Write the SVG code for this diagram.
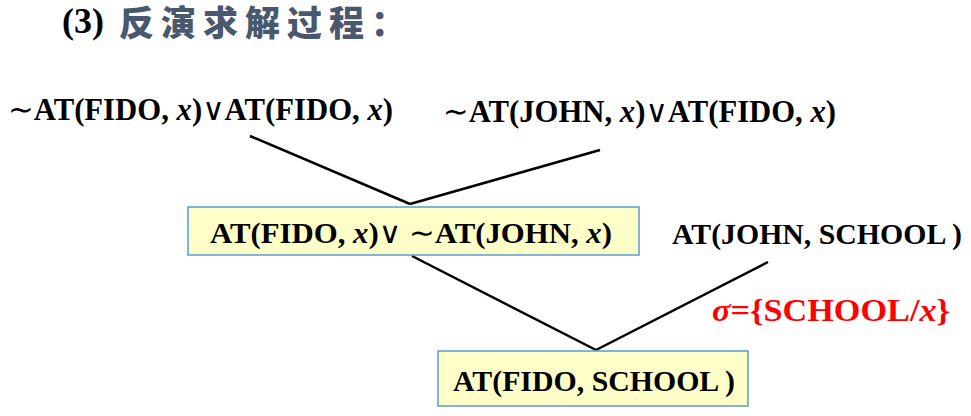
<svg xmlns="http://www.w3.org/2000/svg" width="971" height="416" viewBox="0 0 971 416">
<style>
.t{font-family:"Liberation Serif","DejaVu Serif",serif;font-weight:bold;font-size:30px;fill:#000}
.i{font-style:italic}
.op{font-family:"DejaVu Sans",sans-serif;font-weight:normal}
.box{fill:#ffffc8;stroke:#5b9bd5;stroke-width:1.5}
.ln{stroke:#000;stroke-width:2.5;fill:none}
</style>
<rect width="971" height="416" fill="#fff"/>
<g id="title">
<text x="62" y="33" class="t" style="font-size:36px">(3)</text>
<text x="119" y="36" style="font-family:'Noto Sans CJK SC',sans-serif;font-weight:900;font-size:35px;fill:#4a586e;letter-spacing:7px">反演求解过程：</text>
</g>
<g id="connectors">
<line class="ln" x1="250" y1="136" x2="410" y2="204"/>
<line class="ln" x1="600" y1="150" x2="410" y2="204"/>
<line class="ln" x1="412" y1="256" x2="596" y2="350"/>
<line class="ln" x1="768" y1="262" x2="596" y2="350"/>
</g>
<g id="clause1">
<text x="8" y="120" class="t" style="font-size:31px" textLength="385" lengthAdjust="spacingAndGlyphs"><tspan class="op">∼</tspan>AT(FIDO, <tspan class="i">x</tspan>)<tspan class="op">∨</tspan>AT(FIDO, <tspan class="i">x</tspan>)</text>
</g>
<g id="clause2">
<text x="443" y="122" class="t" style="font-size:31px" textLength="393" lengthAdjust="spacingAndGlyphs"><tspan class="op">∼</tspan>AT(JOHN, <tspan class="i">x</tspan>)<tspan class="op">∨</tspan>AT(FIDO, <tspan class="i">x</tspan>)</text>
</g>
<g id="resolvent1">
<rect class="box" x="188" y="207" width="451" height="48"/>
<text x="210" y="243" class="t" textLength="402" lengthAdjust="spacingAndGlyphs">AT(FIDO, <tspan class="i">x</tspan>)<tspan class="op">∨</tspan> <tspan class="op">∼</tspan>AT(JOHN, <tspan class="i">x</tspan>)</text>
</g>
<g id="clause3">
<text x="672" y="244" class="t" style="font-size:29px" textLength="290" lengthAdjust="spacingAndGlyphs">AT(JOHN, SCHOOL )</text>
</g>
<g id="substitution">
<text x="712" y="321" class="t" style="fill:#ff0000;font-size:32px" textLength="238" lengthAdjust="spacingAndGlyphs"><tspan class="i">σ</tspan>={SCHOOL/<tspan class="i">x</tspan>}</text>
</g>
<g id="resolvent2">
<rect class="box" x="438" y="351" width="310" height="55"/>
<text x="453" y="391" class="t" style="font-size:29px" textLength="282" lengthAdjust="spacingAndGlyphs">AT(FIDO, SCHOOL )</text>
</g>
</svg>
